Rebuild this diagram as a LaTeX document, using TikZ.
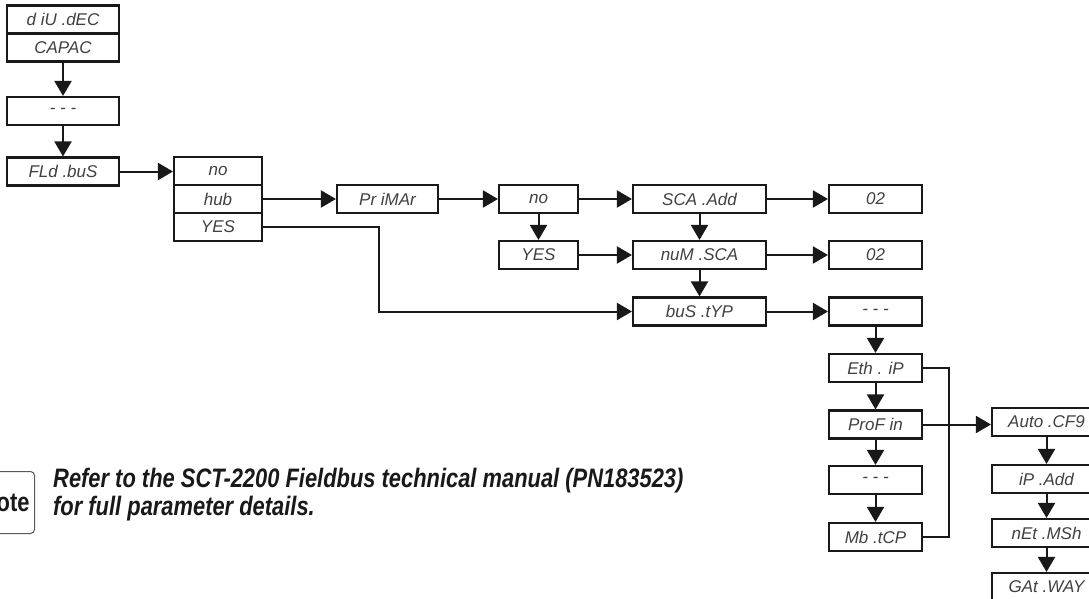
\documentclass[tikz,border=0pt]{standalone}
\usepackage{fontspec}
\setmainfont{Liberation Sans}
\newfontfamily\segfont{Liberation Sans}
\newfontfamily\notefont{Liberation Sans}[FakeStretch=0.82]
\usetikzlibrary{arrows.meta}
\begin{document}
\begin{tikzpicture}[x=1pt,y=-1pt,
  box/.style={draw=black!90, line width=2.1pt, minimum height=28pt, inner sep=0pt,
    font=\segfont\itshape\fontsize{17}{17}\selectfont, text=black!75},
  arr/.style={line width=2pt, draw=black!90, -{Triangle[length=15pt,width=17pt]}},
  ln/.style={line width=2pt, draw=black!90},
  notetxt/.style={anchor=base west, inner sep=0pt, text=black!90,
    font=\notefont\bfseries\itshape\fontsize{26.7}{28}\selectfont}]
\useasboundingbox (0,0) rectangle (1089,599);
\begin{scope}
\clip (0,0) rectangle (1089,599);
% left column
\node[box, minimum width=112pt] (div) at (63,19.5) {d iU .dEC};
\node[box, minimum width=112pt] (capac) at (63,47.5) {CAPAC};
\node[box, minimum width=112pt] (dots1) at (63,111) {- - -};
\node[box, minimum width=112pt] (fld) at (63,171.5) {FLd .buS};
% stack
\node[box, minimum width=88pt] (no1) at (218,171) {no};
\node[box, minimum width=88pt] (hub) at (218,199) {hub};
\node[box, minimum width=88pt] (yes1) at (218,227) {YES};
% primar
\node[box, minimum width=101pt] (prim) at (387.5,199) {Pr iMAr};
\node[box, minimum width=79pt] (no2) at (538.5,199) {no};
\node[box, minimum width=79pt] (yes2) at (538.5,255) {YES};
% sca column
\node[box, minimum width=133pt] (sca) at (699.5,199) {SCA .Add};
\node[box, minimum width=133pt] (num) at (699.5,255) {nuM .SCA};
\node[box, minimum width=133pt] (bus) at (699.5,311.5) {buS .tYP};
% 02 column
\node[box, minimum width=93pt] (oa) at (875.5,199) {02};
\node[box, minimum width=93pt] (ob) at (875.5,255) {02};
\node[box, minimum width=93pt] (dots2) at (875.5,311.5) {- - -};
\node[box, minimum width=93pt] (eth) at (875.5,368) {Eth . iP};
\node[box, minimum width=93pt] (prof) at (875.5,424.5) {ProF in};
\node[box, minimum width=93pt] (dots3) at (875.5,480) {- - -};
\node[box, minimum width=93pt] (mb) at (875.5,537) {Mb .tCP};
% right column
\node[box, minimum width=109pt] (auto) at (1046.5,422) {Auto .CF9};
\node[box, minimum width=109pt] (ipadd) at (1046.5,479) {iP .Add};
\node[box, minimum width=109pt] (netm) at (1046.5,533) {nEt .MSh};
\node[box, minimum width=109pt] (gat) at (1046.5,587) {GAt .WAY};
% connectors
\draw[arr] (capac.south) -- (dots1.north);
\draw[arr] (dots1.south) -- (fld.north);
\draw[arr] (fld.east) -- (fld.east -| no1.west);
\draw[arr] (hub.east) -- (prim.west);
\draw[arr] (prim.east) -- (no2.west);
\draw[arr] (no2.south) -- (yes2.north);
\draw[arr] (no2.east) -- (sca.west);
\draw[arr] (yes2.east) -- (num.west);
\draw[arr] (sca.south) -- (num.north);
\draw[arr] (num.south) -- (bus.north);
\draw[arr] (sca.east) -- (oa.west);
\draw[arr] (num.east) -- (ob.west);
\coordinate (yr) at (379,311.5);
\draw[arr] (yes1.east) -| (yr) -- (bus.west);
\draw[arr] (bus.east) -- (dots2.west);
\draw[arr] (dots2.south) -- (eth.north);
\draw[arr] (eth.south) -- (prof.north);
\draw[arr] (prof.south) -- (dots3.north);
\draw[arr] (dots3.south) -- (mb.north);
\coordinate (bk) at (949,368);
\draw[ln] (eth.east) -- (bk) |- (mb.east);
\draw[arr] (prof.east) -- (prof.east -| auto.west);
\draw[arr] (auto.south) -- (ipadd.north);
\draw[arr] (ipadd.south) -- (netm.north);
\draw[arr] (netm.south) -- (gat.north);
% note
\node[draw=black!65, line width=1pt, rounded corners=4pt, anchor=north east,
  minimum height=62pt, inner xsep=5pt, text=black!90,
  font=\notefont\bfseries\fontsize{26.7}{28}\selectfont] (note) at (35,471) {Note};
\node[notetxt] (line1) at (53,487) {Refer to the SCT-2200 Fieldbus technical manual (PN183523)};
\node[notetxt] (line2) at (53,515) {for full parameter details.};
\end{scope}
\end{tikzpicture}
\end{document}
